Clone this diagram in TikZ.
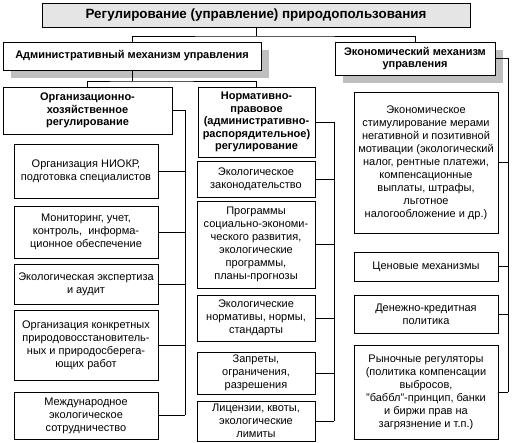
\documentclass[tikz,border=0pt]{standalone}
\usepackage{fontspec}
\setmainfont{Liberation Sans}
\usetikzlibrary{shadows}

\begin{document}
\begin{tikzpicture}[x=1pt, y=-1pt, line width=0.8pt,
  box/.style={draw, fill=white, inner sep=1pt, align=center,
    font=\fontsize{11}{13}\selectfont},
  head/.style={box, font=\fontsize{11}{12.5}\selectfont\bfseries},
  shade/.style={drop shadow={shadow xshift=8pt, shadow yshift=-8pt,
    fill=black!25, opacity=1}}]
  \useasboundingbox (0,0) rectangle (512,443);

  \node[head, fill=black!10, minimum width=428pt, minimum height=24pt,
    font=\fontsize{13.4}{15}\selectfont\bfseries] (top) at (256,15)
    {Регулирование (управление) природопользования};
  \node[head, shade, minimum width=258pt, minimum height=28pt] (admin) at (132,56)
    {Административный механизм управления};
  \node[head, shade, minimum width=160pt, minimum height=33pt] (econ) at (415,58.5)
    {Экономический механизм\\управления};
  \node[head, minimum width=169pt, minimum height=47pt] (org) at (87.5,110.5)
    {Организационно-\\хозяйственное\\регулирование};
  \node[head, minimum width=117pt, minimum height=70pt] (norm) at (256.5,122)
    {Нормативно-\\правовое\\(административно-\\распорядительное)\\регулирование};

  \coordinate (tj) at (256,36);
  \coordinate (aj) at (132,81);
  \coordinate (orgbus) at (185,0);
  \coordinate (normbus) at (334,0);
  \coordinate (econbus) at (508,0);

  \draw (top.south) -- (top.south |- tj);
  \draw (admin.north) |- (tj) -| (econ.north);
  \draw (admin.south) -- (admin.south |- aj);
  \draw (org.north) |- (aj) -| (norm.north);

  \foreach \nm/\yc/\hh/\lbl in {
    o1/171/54/{Организация НИОКР,\\подготовка специалистов},
    o2/232/52/{Мониторинг, учет,\\контроль,\ \ информа-\\ционное обеспечение},
    o3/284/40/{Экологическая экспертиза\\и аудит},
    o4/345/70/{Организация конкретных\\природовосстановитель-\\ных и природосберега-\\ющих работ},
    o5/415.5/47/{Международное\\экологическое\\сотрудничество}}
  {
    \node[box, minimum width=144pt, minimum height=\hh pt] (\nm) at (86,\yc) {\lbl};
    \draw (\nm.east) -- (\nm.east -| orgbus);
  }
  \draw (org.east) -- (org.east -| orgbus) -- (o5.east -| orgbus);

  \foreach \nm/\yc/\hh/\lbl in {
    n1/179/36/{Экологическое\\законодательство},
    n2/244.5/87/{Программы\\социально-экономи-\\ческого развития,\\экологические\\программы,\\планы-прогнозы},
    n3/318/46/{Экологические\\нормативы, нормы,\\стандарты},
    n4/373/42/{Запреты,\\ограничения,\\разрешения},
    n5/421/40/{Лицензии, квоты,\\экологические\\лимиты}}
  {
    \node[box, minimum width=118pt, minimum height=\hh pt] (\nm) at (256,\yc) {\lbl};
    \draw (\nm.east) -- (\nm.east -| normbus);
  }
  \draw (norm.east) -- (norm.east -| normbus) -- (n5.east -| normbus);

  \foreach \nm/\yc/\hh/\lbl in {
    e1/162.5/141/{Экономическое\\стимулирование мерами\\негативной и позитивной\\мотивации (экологический\\налог, рентные платежи,\\компенсационные\\выплаты, штрафы,\\льготное\\налогообложение и др.)},
    e2/266.5/29/{Ценовые механизмы},
    e3/314/38/{Денежно-кредитная\\политика},
    e4/392/94/{Рыночные регуляторы\\(политика компенсации\\выбросов,\\"баббл"-принцип, банки\\и биржи прав на\\загрязнение и т.п.)}}
  {
    \node[box, minimum width=144pt, minimum height=\hh pt] (\nm) at (426,\yc) {\lbl};
    \draw (\nm.east) -- (\nm.east -| econbus);
  }
  \draw (econ.east) -- (econ.east -| econbus) -- (e4.east -| econbus);
\end{tikzpicture}
\end{document}
